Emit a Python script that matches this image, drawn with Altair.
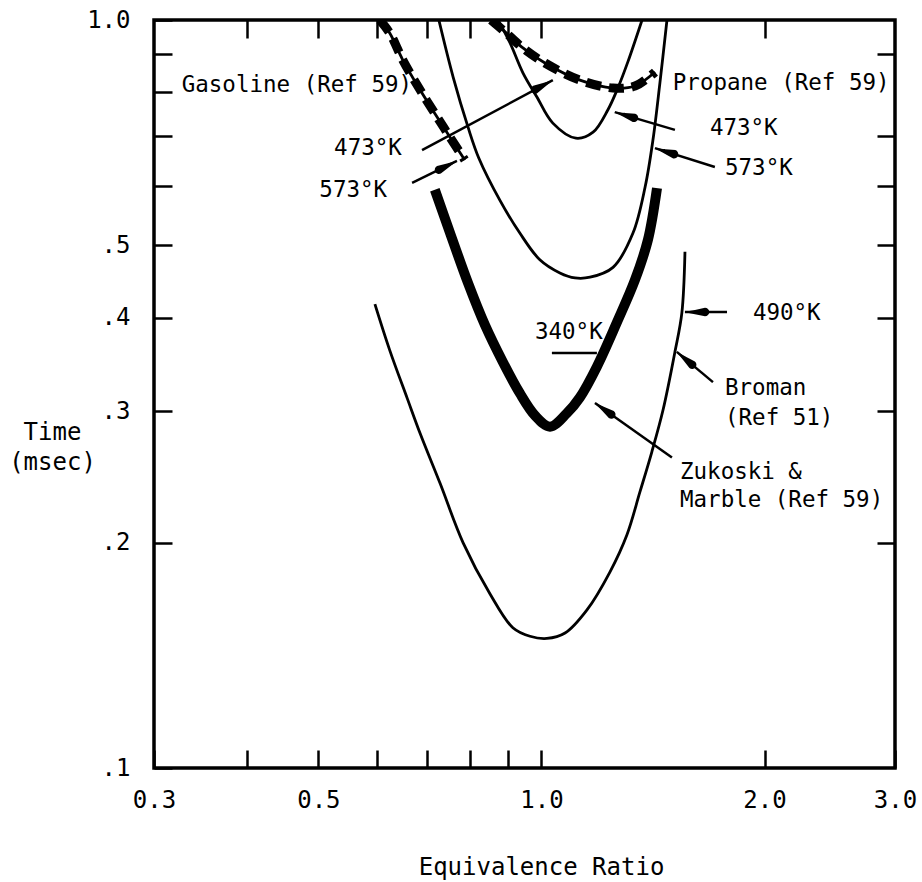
import math
import altair as alt
import pandas as pd

# ---------------- data (equivalence ratio, time in msec) ----------------
# Broman (Ref 51), 490 K
broman_phi = [0.596, 0.624, 0.659, 0.686, 0.730, 0.784, 0.852, 0.915, 0.965, 1.017,
              1.076, 1.152, 1.237, 1.304, 1.358, 1.409, 1.459, 1.514, 1.547, 1.562]
broman_t = [0.417, 0.362, 0.312, 0.280, 0.240, 0.200, 0.171, 0.154, 0.150, 0.149,
            0.1515, 0.1627, 0.1828, 0.2049, 0.2339, 0.2645, 0.301, 0.360, 0.406, 0.490]
# Zukoski & Marble (Ref 59), 340 K
zukoski_phi = [0.718, 0.757, 0.796, 0.839, 0.887, 0.935, 0.980, 1.027, 1.082, 1.127,
               1.188, 1.264, 1.337, 1.392, 1.432]
zukoski_t = [0.593, 0.511, 0.445, 0.391, 0.349, 0.317, 0.296, 0.286, 0.298, 0.313,
             0.344, 0.394, 0.449, 0.508, 0.596]
# Propane (Ref 59), 573 K
propane573_phi = [0.727, 0.760, 0.796, 0.823, 0.879, 0.935, 0.995, 1.059, 1.110, 1.163,
                  1.249, 1.329, 1.380, 1.414, 1.445, 1.477]
propane573_t = [1.0, 0.839, 0.719, 0.654, 0.574, 0.519, 0.478, 0.459, 0.452, 0.453,
                0.467, 0.519, 0.598, 0.691, 0.824, 1.0]
# Propane (Ref 59), 473 K
propane473_phi = [0.874, 0.907, 0.944, 0.986, 1.036, 1.113, 1.174, 1.229, 1.268, 1.308, 1.367]
propane473_t = [1.0, 0.932, 0.850, 0.789, 0.728, 0.695, 0.708, 0.758, 0.811, 0.879, 1.0]
# Gasoline (Ref 59), 473 K
gasoline473_phi = [0.855, 0.893, 0.941, 1.011, 1.127, 1.249, 1.337, 1.423]
gasoline473_t = [1.0, 0.964, 0.920, 0.876, 0.831, 0.811, 0.816, 0.852]
# Gasoline (Ref 59), 573 K
gasoline573_phi = [0.605, 0.624, 0.650, 0.686, 0.723, 0.752, 0.788]
gasoline573_t = [1.0, 0.961, 0.884, 0.806, 0.742, 0.698, 0.650]

# annotation arrows (tail -> head)
arrow_tail_phi = [0.690, 0.669, 1.514, 1.714, 1.780, 1.704, 1.500]
arrow_tail_t = [0.670, 0.6055, 0.713, 0.636, 0.407, 0.328, 0.260]
arrow_head_phi = [1.036, 0.769, 1.256, 1.423, 1.562, 1.523, 1.181]
arrow_head_t = [0.831, 0.648, 0.753, 0.674, 0.407, 0.360, 0.3076]
# underline of 340 K
underline_phi = [1.033]
underline_phi2 = [1.188]
underline_t = [0.3587]

# annotation texts
left_labels = ["Gasoline (Ref 59)", "Propane (Ref 59)", "473°K", "573°K", "490°K",
               "340°K", "Broman", "(Ref 51)", "Zukoski &", "Marble (Ref 59)"]
left_phi = [0.327, 1.504, 1.688, 1.769, 1.929, 0.980, 1.769, 1.769, 1.538, 1.538]
left_t = [0.819, 0.824, 0.717, 0.634, 0.406, 0.383, 0.322, 0.294, 0.2487, 0.228]
right_labels = ["473°K", "573°K"]
right_phi = [0.648, 0.619]
right_t = [0.674, 0.5925]

# axis ticks
x_ticks = [0.3, 0.4, 0.5, 0.6, 0.7, 0.8, 0.9, 1.0, 2.0, 3.0]
x_tick_labels = ["0.3", "", "0.5", "", "", "", "", "1.0", "2.0", "3.0"]
x_top_ticks = [0.4, 0.5, 0.6, 0.7, 0.8, 0.9, 1.0, 2.0]
y_ticks = [0.1, 0.2, 0.3, 0.4, 0.5, 0.6, 0.7, 0.8, 0.9, 1.0]
y_tick_labels = [".1", ".2", ".3", ".4", ".5", "", "", "", "", "1.0"]
y_right_ticks = [0.2, 0.3, 0.4, 0.5, 0.6, 0.7, 0.9]

# ---------------- layout ----------------
W, H = 741, 748
FONT = "DejaVu Sans Mono"
HEAD_LEN, HEAD_W = 20, 8.5


def label_expr(values, labels):
    expr = "''"
    for v, lab in zip(values, labels):
        if lab:
            expr = f"datum.value == {v} ? '{lab}' : ({expr})"
    return expr


def curve_df(phi, t):
    return pd.DataFrame({"i": list(range(len(phi))), "phi": phi, "t": t})


xs = alt.Scale(type="log", domain=[0.3, 3.0], nice=False)
ys = alt.Scale(type="log", domain=[0.1, 1.0], nice=False)


def line(df, width, axis_x=None, axis_y=None, dash=None, cap="butt"):
    kw = dict(strokeWidth=width, color="black", clip=True,
              interpolate="catmull-rom", strokeCap=cap)
    if dash:
        kw["strokeDash"] = dash
    return alt.Chart(df).mark_line(**kw).encode(
        x=alt.X("phi:Q", scale=xs, axis=axis_x),
        y=alt.Y("t:Q", scale=ys, axis=axis_y),
        order=alt.Order("i:Q"),
    )


axis_bottom = alt.Axis(orient="bottom", values=x_ticks,
                       labelExpr=label_expr(x_ticks, x_tick_labels),
                       tickSize=18, offset=-18, labelPadding=20, labelFlush=False,
                       labelOverlap=False, domain=False, grid=False,
                       title="Equivalence Ratio", titleX=387, titleY=117,
                       titleBaseline="middle", titleAlign="center")
axis_left = alt.Axis(orient="left", values=y_ticks,
                     labelExpr=label_expr(y_ticks, y_tick_labels),
                     tickSize=18, offset=-18, labelPadding=24, labelFlush=False,
                     labelOverlap=False, domain=False, grid=False,
                     title=["Time", "(msec)"], titleAngle=0, titleAlign="center",
                     titleBaseline="top", titleX=-120, titleY=400, titleLineHeight=30)
axis_top = alt.Axis(orient="top", values=x_top_ticks, labels=False, tickSize=18,
                    offset=-18, domain=False, grid=False, title=None)
axis_right = alt.Axis(orient="right", values=y_right_ticks, labels=False, tickSize=18,
                      offset=-18, domain=False, grid=False, title=None)

broman = line(curve_df(broman_phi, broman_t), 2.8, axis_bottom, axis_left)
zukoski = line(curve_df(zukoski_phi, zukoski_t), 10, axis_top, axis_right)
prop573 = line(curve_df(propane573_phi, propane573_t), 2.8)
prop473 = line(curve_df(propane473_phi, propane473_t), 2.8)
gas473_thin = line(curve_df(gasoline473_phi, gasoline473_t), 2.8)
gas473_dash = line(curve_df(gasoline473_phi, gasoline473_t), 9, dash=[15, 8])
gas573_thin = line(curve_df(gasoline573_phi, gasoline573_t), 2.8)
gas573_dash = line(curve_df(gasoline573_phi, gasoline573_t), 9, dash=[15, 8])

# arrows: shaft as rules, heads as tapered trails (base -> tip) derived from the
# shaft direction
arrows_df = pd.DataFrame({"phi": arrow_tail_phi, "t": arrow_tail_t,
                          "phi2": arrow_head_phi, "t2": arrow_head_t})
head_rows = []
for k, (tx, ty, hx, hy) in enumerate(zip(arrow_tail_phi, arrow_tail_t,
                                         arrow_head_phi, arrow_head_t)):
    dx = W * (math.log10(hx) - math.log10(tx))
    dy = H * (math.log10(hy) - math.log10(ty))
    n = math.hypot(dx, dy)
    ux, uy = dx / n, dy / n
    for i, (frac, w) in enumerate([(1.0, HEAD_W), (0.5, HEAD_W * 0.5), (0.0, 0.4)]):
        px = 10 ** (math.log10(hx) - frac * HEAD_LEN * ux / W)
        py = 10 ** (math.log10(hy) - frac * HEAD_LEN * uy / H)
        head_rows.append({"arrow": k, "i": i, "phi": px, "t": py, "w": w})
heads_df = pd.DataFrame(head_rows)

arrow_lines = alt.Chart(arrows_df).mark_rule(color="black", strokeWidth=2.5).encode(
    x=alt.X("phi:Q", scale=xs, axis=None), x2="phi2:Q",
    y=alt.Y("t:Q", scale=ys, axis=None), y2="t2:Q")
arrow_heads = alt.Chart(heads_df).mark_trail(color="black").encode(
    x=alt.X("phi:Q", scale=xs, axis=None),
    y=alt.Y("t:Q", scale=ys, axis=None),
    size=alt.Size("w:Q", scale=None, legend=None),
    detail="arrow:N",
    order=alt.Order("i:Q"))

underline = alt.Chart(pd.DataFrame({"phi": underline_phi, "phi2": underline_phi2,
                                    "t": underline_t})).mark_rule(
    color="black", strokeWidth=2.5).encode(
    x=alt.X("phi:Q", scale=xs, axis=None), x2="phi2:Q",
    y=alt.Y("t:Q", scale=ys, axis=None))

texts_left = alt.Chart(pd.DataFrame({"phi": left_phi, "t": left_t,
                                     "label": left_labels})).mark_text(
    align="left", baseline="middle", font=FONT, fontSize=22.5, color="black").encode(
    x=alt.X("phi:Q", scale=xs, axis=None),
    y=alt.Y("t:Q", scale=ys, axis=None), text="label:N")
texts_right = alt.Chart(pd.DataFrame({"phi": right_phi, "t": right_t,
                                      "label": right_labels})).mark_text(
    align="right", baseline="middle", font=FONT, fontSize=22.5, color="black").encode(
    x=alt.X("phi:Q", scale=xs, axis=None),
    y=alt.Y("t:Q", scale=ys, axis=None), text="label:N")

chart = alt.layer(
    broman, zukoski, prop573, prop473, gas473_thin, gas473_dash,
    gas573_thin, gas573_dash, arrow_lines, arrow_heads, underline,
    texts_left, texts_right,
).resolve_axis(x="independent", y="independent").properties(
    width=W, height=H,
    autosize=alt.AutoSizeParams(type="none"),
    padding={"left": 154, "top": 20, "right": 27, "bottom": 114},
    background="white",
).configure_view(
    stroke="black", strokeWidth=3.5
).configure_axis(
    labelFont=FONT, labelFontSize=24, labelColor="black",
    titleFont=FONT, titleFontSize=24, titleFontWeight="normal", titleColor="black",
    tickColor="black", tickWidth=2.5,
)

chart.save("out.html", embed_options={"renderer": "svg", "actions": False})
